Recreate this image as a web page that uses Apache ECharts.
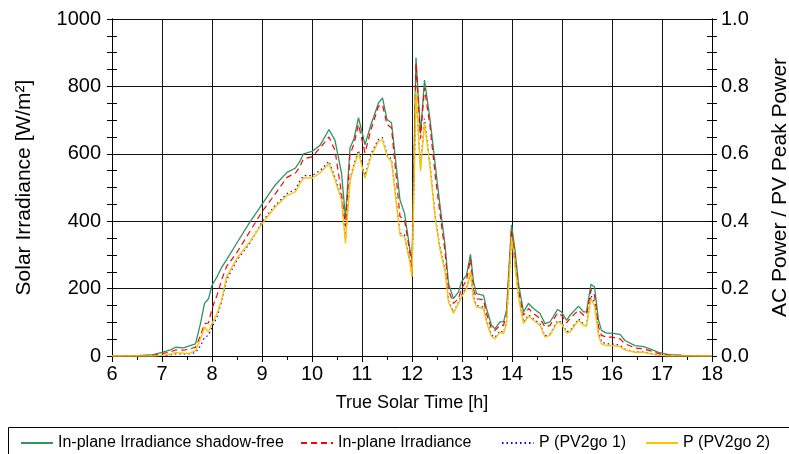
<!DOCTYPE html>
<html><head><meta charset="utf-8">
<script src="https://cdn.jsdelivr.net/npm/echarts@6/dist/echarts.min.js"></script>
<style>html,body{margin:0;padding:0;background:#fff}#c{width:789px;height:454px}</style>
</head><body><div id="c"></div>
<script>
// Time (true solar time, hours)
const times = [6.0,6.5,6.83,7.0,7.17,7.27,7.43,7.53,7.67,7.77,7.85,7.93,8.0,8.1,8.19,8.29,8.5,8.75,9.0,9.25,9.5,9.67,9.75,9.83,10.0,10.16,10.34,10.46,10.59,10.67,10.76,10.84,10.93,11.06,11.18,11.33,11.41,11.5,11.59,11.76,11.85,11.96,12.0,12.08,12.17,12.25,12.36,12.46,12.55,12.66,12.73,12.83,12.93,12.99,13.09,13.17,13.23,13.29,13.43,13.49,13.59,13.66,13.76,13.83,13.89,13.99,14.06,14.13,14.23,14.33,14.43,14.56,14.66,14.76,14.91,14.99,15.09,15.16,15.33,15.43,15.49,15.58,15.65,15.73,15.79,15.89,15.99,16.16,16.26,16.46,16.63,16.76,16.93,17.13,17.5,18.0];
// In-plane irradiance shadow-free [W/m2]
const irrShadowFree = [0,1,4,11,18,26,24,29,36,97,156,170,210,235,262,285,336,396,450,505,545,558,575,600,607,625,672,640,543,410,617,645,707,627,687,751,766,702,692,463,424,314,284,886,660,819,702,573,458,330,215,170,190,220,240,302,220,185,180,141,91,81,101,101,136,389,314,215,131,156,141,126,96,101,138,131,106,121,148,131,131,213,205,106,76,68,68,64,46,31,28,21,11,4,1,0];
// In-plane irradiance [W/m2]
const irr = [0,0,2,7,12,18,17,20,26,60,96,98,141,180,225,265,308,368,428,478,530,543,560,585,591,617,650,610,483,384,597,630,687,603,672,741,746,687,677,414,404,305,255,868,645,796,682,543,434,310,195,156,170,200,225,287,197,170,167,126,81,76,91,91,121,374,294,195,121,141,126,111,86,91,128,121,98,111,136,121,121,197,180,86,61,56,56,51,36,24,21,16,7,3,1,0];
// AC power / PV peak power
const pv1 = [0,0,0,0.001,0.003,0.006,0.006,0.006,0.010,0.030,0.055,0.062,0.085,0.115,0.160,0.225,0.285,0.333,0.398,0.445,0.482,0.495,0.518,0.535,0.535,0.550,0.578,0.530,0.470,0.345,0.525,0.570,0.610,0.535,0.600,0.643,0.648,0.598,0.584,0.365,0.360,0.280,0.240,0.775,0.560,0.704,0.570,0.420,0.330,0.255,0.165,0.130,0.160,0.180,0.205,0.240,0.175,0.150,0.145,0.105,0.062,0.055,0.075,0.070,0.100,0.345,0.275,0.180,0.100,0.122,0.110,0.095,0.060,0.065,0.105,0.100,0.072,0.075,0.110,0.095,0.092,0.180,0.160,0.071,0.042,0.036,0.036,0.032,0.020,0.012,0.012,0.008,0.003,0,0,0];
const pv2 = [0,0,0,0.002,0.005,0.010,0.008,0.007,0.016,0.051,0.086,0.071,0.096,0.126,0.165,0.235,0.290,0.338,0.392,0.440,0.476,0.488,0.510,0.528,0.528,0.543,0.571,0.523,0.463,0.334,0.518,0.563,0.603,0.528,0.593,0.637,0.642,0.593,0.578,0.359,0.354,0.275,0.235,0.785,0.548,0.692,0.563,0.414,0.324,0.250,0.160,0.126,0.156,0.175,0.200,0.250,0.170,0.145,0.141,0.101,0.058,0.051,0.071,0.066,0.096,0.354,0.270,0.175,0.096,0.118,0.106,0.091,0.056,0.061,0.101,0.096,0.068,0.071,0.106,0.091,0.088,0.170,0.150,0.061,0.036,0.031,0.031,0.028,0.018,0.011,0.011,0.007,0.002,0,0,0];
const xTicks = [6,7,8,9,10,11,12,13,14,15,16,17,18];
const yLeftTicks = [0,200,400,600,800,1000];
const yRightTicks = [0.0,0.2,0.4,0.6,0.8,1.0];
const names = ['In-plane Irradiance shadow-free','In-plane Irradiance','P (PV2go 1)','P (PV2go 2)'];

const pair = arr => times.map((t,i)=>[t,arr[i]]);
const FONT = 'Liberation Sans';
const txt = {fontFamily: FONT, color:'#000'};
const chart = echarts.init(document.getElementById('c'), null, {renderer:'canvas'});
const tickOut = {show:true, length:5, lineStyle:{color:'#000',width:1}};
const yBase = (pos, min, max, interval) => ({
  type:'value', position:pos, min, max, interval,
  axisLine:{show:true, onZero:false, lineStyle:{color:'#000',width:1}},
  splitLine:{show:false}
});
const option = {
  animation:false,
  backgroundColor:'#fff',
  grid:{left:112, right:77, top:19, bottom:98, containLabel:false, outerBoundsMode:'none'},
  xAxis:[{
    type:'value', min:xTicks[0], max:xTicks[xTicks.length-1], interval:1,
    name:'True Solar Time [h]', nameLocation:'middle', nameGap:38,
    nameTextStyle:Object.assign({fontSize:18}, txt),
    axisLine:{show:true, onZero:false, lineStyle:{color:'#000',width:1}},
    axisTick:{show:true, length:6, lineStyle:{color:'#000'}},
    minorTick:{show:true, splitNumber:2, length:4, lineStyle:{color:'#000'}},
    axisLabel:Object.assign({fontSize:20, margin:8}, txt),
    splitLine:{show:true, lineStyle:{color:'#111', width:1}}
  }],
  yAxis:[
    Object.assign(yBase('left',yLeftTicks[0],yLeftTicks[yLeftTicks.length-1],200),{
      name:'Solar Irradiance [W/m²]', nameLocation:'middle', nameGap:77,
      nameTextStyle:Object.assign({fontSize:21}, txt),
      axisTick:tickOut, minorTick:{show:true, splitNumber:4, length:5, lineStyle:{color:'#000'}},
      axisLabel:Object.assign({fontSize:20, margin:11, formatter:v=>String(v)}, txt),
      splitLine:{show:true, lineStyle:{color:'#111', width:1}}
    }),
    Object.assign(yBase('right',yRightTicks[0],yRightTicks[yRightTicks.length-1],0.2),{
      name:'AC Power / PV Peak Power', nameLocation:'middle', nameGap:58, nameRotate:90,
      nameTextStyle:Object.assign({fontSize:21}, txt),
      axisTick:tickOut, minorTick:{show:true, splitNumber:4, length:5, lineStyle:{color:'#000'}},
      axisLabel:Object.assign({fontSize:20, margin:9, formatter:v=>v.toFixed(1)}, txt)
    }),
    Object.assign(yBase('left',0,1000,200),{
      axisTick:{show:true, inside:true, length:5, lineStyle:{color:'#000'}},
      minorTick:{show:true, splitNumber:4, length:5, lineStyle:{color:'#000'}},
      axisLabel:{show:false}
    }),
    Object.assign(yBase('right',0,1,0.2),{
      axisTick:{show:true, inside:true, length:5, lineStyle:{color:'#000'}},
      minorTick:{show:true, splitNumber:4, length:5, lineStyle:{color:'#000'}},
      axisLabel:{show:false}
    })
  ],
  legend:[
    {data:[names[0]], left:20, top:435},
    {data:[names[1]], left:300, top:435},
    {data:[names[2]], left:501, top:435},
    {data:[names[3]], left:645, top:435}
  ].map(l=>Object.assign(l,{padding:0, itemWidth:32, itemHeight:14, itemStyle:{opacity:0}, textStyle:Object.assign({fontSize:16}, txt)})),
  graphic:[{type:'rect', shape:{x:8.5,y:427.5,width:800,height:40}, style:{fill:'none', stroke:'#000', lineWidth:1}, silent:true}],
  series:[
    {name:names[0], type:'line', xAxisIndex:0, yAxisIndex:0, data:pair(irrShadowFree), symbol:'none', lineStyle:{color:'#2e9460', width:1.3, type:'solid'}, itemStyle:{color:'#2e9460'}},
    {name:names[1], type:'line', xAxisIndex:0, yAxisIndex:0, data:pair(irr), symbol:'none', lineStyle:{color:'#ff0000', width:1.2, type:[6,4]}, itemStyle:{color:'#ff0000'}},
    {name:names[2], type:'line', xAxisIndex:0, yAxisIndex:1, data:pair(pv1), symbol:'none', lineStyle:{color:'#0000ff', width:1.2, type:[1.5,3]}, itemStyle:{color:'#0000ff'}},
    {name:names[3], type:'line', xAxisIndex:0, yAxisIndex:1, data:pair(pv2), symbol:'none', lineStyle:{color:'#ffc400', width:1.4, type:'solid'}, itemStyle:{color:'#ffc400'}}
  ]
};
chart.setOption(option);
</script></body></html>
